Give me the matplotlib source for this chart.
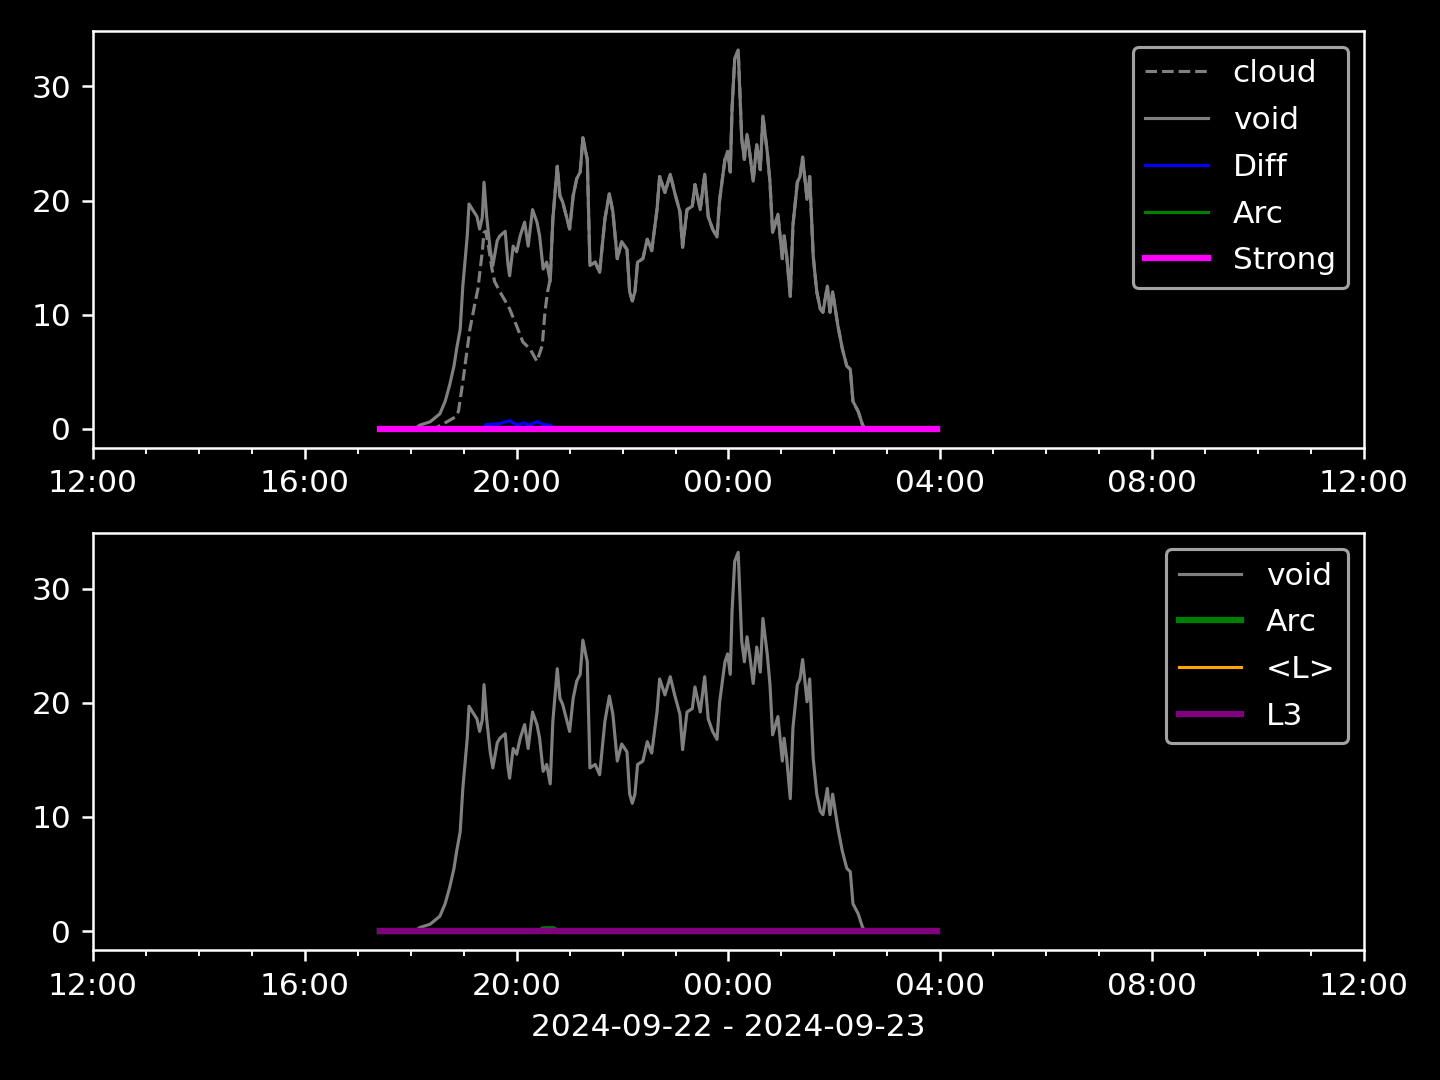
import matplotlib
matplotlib.use("Agg")
import matplotlib.pyplot as plt
import matplotlib.dates as mdates
import pandas as pd

plt.style.use("dark_background")

# start / end of the window
t_start = "2024-09-22 12:00"
t_end = "2024-09-23 12:00"

# void signal (times HH:MM, after midnight = next day)
void_t = ["17:25", "18:05", "18:10", "18:22", "18:33", "18:39", "18:44", "18:49", "18:52", "18:56",
          "18:59", "19:04", "19:06", "19:10", "19:15", "19:18", "19:21", "19:23", "19:26", "19:30",
          "19:33", "19:38", "19:41", "19:47", "19:50", "19:52", "19:56", "20:00", "20:04", "20:09",
          "20:13", "20:18", "20:23", "20:26", "20:30", "20:34", "20:38", "20:41", "20:46", "20:49",
          "20:52", "20:57", "21:00", "21:04", "21:08", "21:12", "21:15", "21:20", "21:23", "21:29",
          "21:34", "21:40", "21:45", "21:49", "21:54", "21:59", "22:05", "22:08", "22:11", "22:14",
          "22:17", "22:23", "22:28", "22:33", "22:39", "22:42", "22:48", "22:54", "22:59", "23:05",
          "23:08", "23:13", "23:19", "23:22", "23:28", "23:33", "23:37", "23:42", "23:47", "23:50",
          "23:56", "23:59", "00:02", "00:04", "00:07", "00:11", "00:15", "00:18", "00:21", "00:24",
          "00:28", "00:32", "00:36", "00:39", "00:44", "00:47", "00:50", "00:56", "01:01", "01:03",
          "01:06", "01:10", "01:13", "01:18", "01:21", "01:24", "01:29", "01:32", "01:36", "01:40",
          "01:44", "01:47", "01:52", "01:55", "01:58", "02:04", "02:09", "02:14", "02:18", "02:21",
          "02:27", "02:32", "02:35", "03:56"]
void_v = [0, 0, 0.3, 0.6, 1.3, 2.4, 3.8, 5.5, 7.0, 8.7,
          12.5, 16.9, 19.7, 19.2, 18.6, 17.5, 18.5, 21.6, 18.6, 15.7,
          14.3, 16.5, 16.9, 17.3, 14.5, 13.4, 16.0, 15.5, 16.9, 18.1,
          16.0, 19.2, 18.1, 16.9, 14.0, 14.6, 12.9, 18.4, 23.0, 20.4,
          19.9, 18.4, 17.5, 20.4, 21.9, 22.5, 25.5, 23.6, 14.3, 14.6,
          13.7, 18.4, 20.6, 19.0, 14.9, 16.4, 15.7, 12.0, 11.2, 12.0,
          14.6, 14.9, 16.6, 15.6, 19.2, 22.1, 20.7, 22.3, 20.7, 19.0,
          15.9, 19.2, 19.5, 21.4, 19.2, 22.3, 18.6, 17.5, 16.8, 20.1,
          23.6, 24.3, 22.5, 28.0, 32.4, 33.2, 25.4, 23.6, 25.8, 24.2,
          21.7, 24.9, 22.7, 27.4, 24.2, 21.6, 17.2, 18.8, 14.9, 16.9,
          15.1, 11.6, 17.8, 21.6, 22.1, 23.8, 20.1, 22.1, 15.1, 12.0,
          10.5, 10.2, 12.5, 10.2, 12.0, 9.0, 7.0, 5.5, 5.2, 2.4,
          1.5, 0.3, 0, 0]

# cloud: differs from void only in the early part, then follows it
cloud_t = ["17:25", "18:27", "18:41", "18:50", "18:54", "18:59", "19:04", "19:07", "19:13", "19:16",
           "19:21", "19:23", "19:25", "19:28", "19:32", "19:35", "19:41", "19:47", "19:52", "20:00",
           "20:07", "20:15", "20:23", "20:29", "20:32", "20:35", "20:38"]
cloud_v = [0, 0, 0.6, 1.0, 1.5, 4.1, 7.0, 8.7, 11.1, 12.2,
           15.5, 17.2, 17.3, 16.0, 14.0, 12.9, 12.0, 11.2, 10.5, 9.0,
           7.6, 7.0, 5.9, 7.3, 10.2, 12.0, 13.1]

diff_t = ["17:25", "19:22", "19:25", "19:41", "19:52", "19:56", "20:00", "20:09", "20:14", "20:23",
          "20:31", "20:38", "20:42", "03:56"]
diff_v = [0, 0, 0.35, 0.44, 0.7, 0.5, 0.35, 0.5, 0.3, 0.6,
          0.35, 0.3, 0, 0]

arc_t = ["17:25", "20:28", "20:30", "20:42", "20:44", "03:56"]
arc_v = [0, 0, 0.15, 0.15, 0, 0]

zero_t = ["17:25", "03:56"]
zero_v = [0, 0]


def to_dt(hhmm):
    t = pd.to_datetime("2024-09-22 " + hhmm)
    if t.hour < 12:
        t = t + pd.Timedelta(days=1)
    return t


def times(lst):
    return [to_dt(s) for s in lst]


# cloud joins void after 20:38
cloud_x = times(cloud_t) + [t for t in times(void_t) if t > to_dt("20:38")]
cloud_y = cloud_v + [v for t, v in zip(times(void_t), void_v) if t > to_dt("20:38")]

fig, (ax1, ax2) = plt.subplots(2, 1, figsize=(6.4, 4.8), dpi=225)

ax1.plot(cloud_x, cloud_y, color="gray", ls="--", lw=1, label="cloud")
ax1.plot(times(void_t), void_v, color="gray", lw=1, label="void")
ax1.plot(times(diff_t), diff_v, color="blue", lw=1, label="Diff")
ax1.plot(times(zero_t), zero_v, color="green", lw=1, label="Arc")
ax1.plot(times(zero_t), zero_v, color="magenta", lw=2, label="Strong")
ax1.legend(loc="upper right", labelspacing=0.57)

ax2.plot(times(void_t), void_v, color="gray", lw=1, label="void")
ax2.plot(times(arc_t), arc_v, color="green", lw=2, label="Arc")
ax2.plot(times(zero_t), zero_v, color="orange", lw=1, label="<L>")
ax2.plot(times(zero_t), zero_v, color="purple", lw=2, label="L3")
ax2.legend(loc="upper right", labelspacing=0.57)
ax2.set_xlabel("2024-09-22 - 2024-09-23")

for ax in (ax1, ax2):
    ax.set_xlim(pd.to_datetime(t_start), pd.to_datetime(t_end))
    ax.xaxis.set_major_locator(mdates.HourLocator(byhour=range(0, 24, 4)))
    ax.xaxis.set_minor_locator(mdates.HourLocator())
    ax.xaxis.set_major_formatter(mdates.DateFormatter("%H:%M"))
    ax.set_yticks([0, 10, 20, 30])

plt.subplots_adjust(left=0.0646, right=0.9472, top=0.9713, bottom=0.1204, hspace=0.206)
plt.savefig("out.png")
